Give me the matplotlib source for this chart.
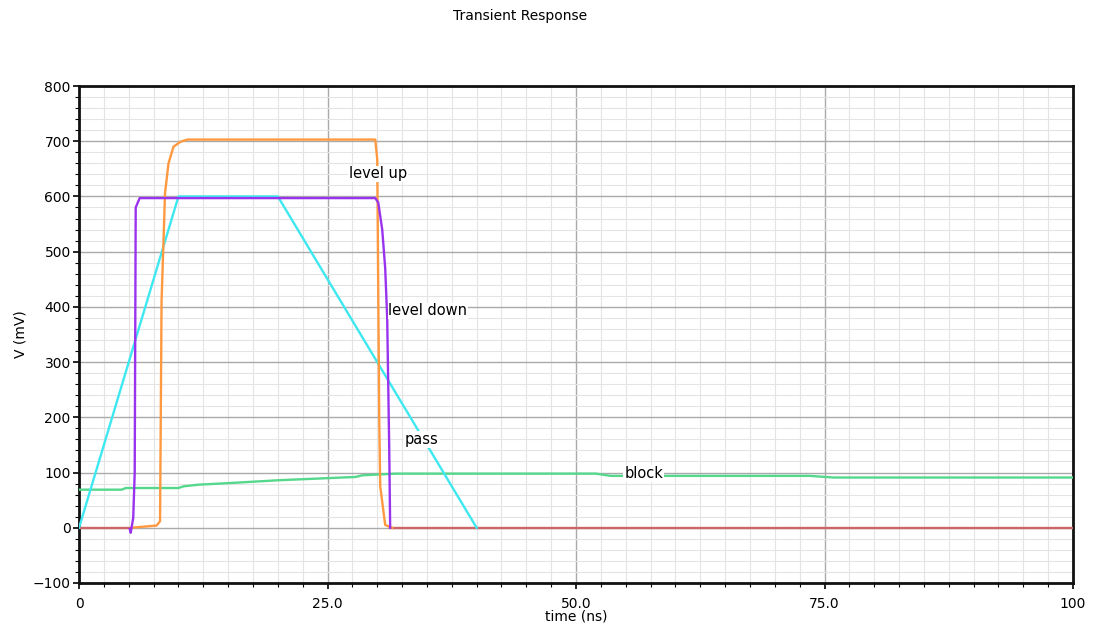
import matplotlib
matplotlib.use("Agg")
import matplotlib.pyplot as plt
import numpy as np
from matplotlib.ticker import MultipleLocator, FixedLocator

plt.rcParams['font.family'] = ['DejaVu Sans']

# ---- waveform samples (time in ns, voltage in mV) ----
pass_t = [0.0, 10.0, 20.0, 40.0]
pass_v = [0.0, 600.0, 600.0, 0.0]

up_t = [5.2, 6.5, 7.8, 8.15, 8.3, 8.65, 9.0, 9.5, 10.2, 10.9, 29.8, 30.0, 30.2, 30.3, 30.8, 31.5]
up_v = [0.0, 2.0, 4.0, 12.0, 410.0, 606.0, 660.0, 690.0, 699.0, 703.0, 703.0, 667.0, 196.0, 75.0, 5.0, 0.0]

down_t = [5.1, 5.2, 5.45, 5.6, 5.7, 6.1, 29.8, 30.1, 30.5, 30.8, 31.0, 31.2, 31.3]
down_v = [-2.0, -9.0, 18.0, 100.0, 580.0, 597.0, 597.0, 589.0, 540.0, 470.0, 380.0, 150.0, 0.0]

block_t = [0.0, 4.3, 4.7, 10.0, 10.5, 12.0, 15.2, 20.0, 25.2, 27.8, 28.5, 31.8, 43.0, 47.4, 52.0,
           53.5, 58.5, 73.5, 75.9, 100.0]
block_v = [69.0, 69.0, 72.0, 72.0, 75.0, 78.0, 81.0, 86.0, 90.0, 92.0, 95.0, 98.0, 98.0, 98.0, 98.0,
           94.0, 94.0, 94.0, 91.0, 91.0]

ref_t = [0.0, 5.2, np.nan, 31.3, 100.0]
ref_v = [0.0, 0.0, np.nan, 0.0, 0.0]

x_ticks = [0, 25, 50, 75, 100]
x_tick_labels = ["0", "25.0", "50.0", "75.0", "100"]
y_ticks = [-100, 0, 100, 200, 300, 400, 500, 600, 700, 800]

labels = ["level up", "level down", "pass", "block"]
label_pos = [(30.1, 641), (35.1, 393), (34.5, 160), (56.8, 98)]

fig = plt.figure(figsize=(11.01, 6.31), dpi=100)
ax = fig.add_axes([0.0718, 0.0761, 0.9028, 0.7876])

ax.set_xlim(0, 100)
ax.set_ylim(-100, 800)

ax.xaxis.set_major_locator(FixedLocator(x_ticks))
ax.set_xticklabels(x_tick_labels)
ax.xaxis.set_minor_locator(MultipleLocator(2.5))
ax.yaxis.set_major_locator(FixedLocator(y_ticks))
ax.yaxis.set_minor_locator(MultipleLocator(20))

ax.grid(which='minor', color='#e4e4e4', linewidth=0.8, zorder=0)
ax.grid(which='major', color='#aaaaaa', linewidth=1.0, zorder=0)
ax.set_axisbelow(True)

for s in ax.spines.values():
    s.set_linewidth(2.0)
    s.set_color('#111111')

ax.tick_params(axis='y', which='major', direction='out', length=4, width=1.2, labelsize=10, pad=2)
ax.tick_params(axis='x', which='major', direction='out', length=4, width=1.2, labelsize=10, pad=6)
ax.tick_params(which='minor', direction='out', length=3, width=0.8)

lw = 1.7
ax.plot(ref_t, ref_v, color='#cc6666', lw=lw, zorder=3)
ax.plot(block_t, block_v, color='#55d88c', lw=lw, zorder=3)
ax.plot(pass_t, pass_v, color='#3ee8f0', lw=lw, zorder=3)
ax.plot(up_t, up_v, color='#ff9940', lw=lw, zorder=4)
ax.plot(down_t, down_v, color='#9a33ee', lw=lw, zorder=5)

for txt, (tx, ty) in zip(labels, label_pos):
    ax.text(tx, ty, txt, fontsize=10.5, ha='center', va='center', zorder=6,
            bbox=dict(facecolor='white', edgecolor='none', pad=0.5))

ax.set_xlabel("time (ns)", fontsize=10, labelpad=-1)
ax.set_ylabel("V (mV)", fontsize=10, labelpad=4)
fig.text(0.472, 0.975, "Transient Response", fontsize=10, ha='center', va='center')

fig.savefig("out.png", dpi=100)
